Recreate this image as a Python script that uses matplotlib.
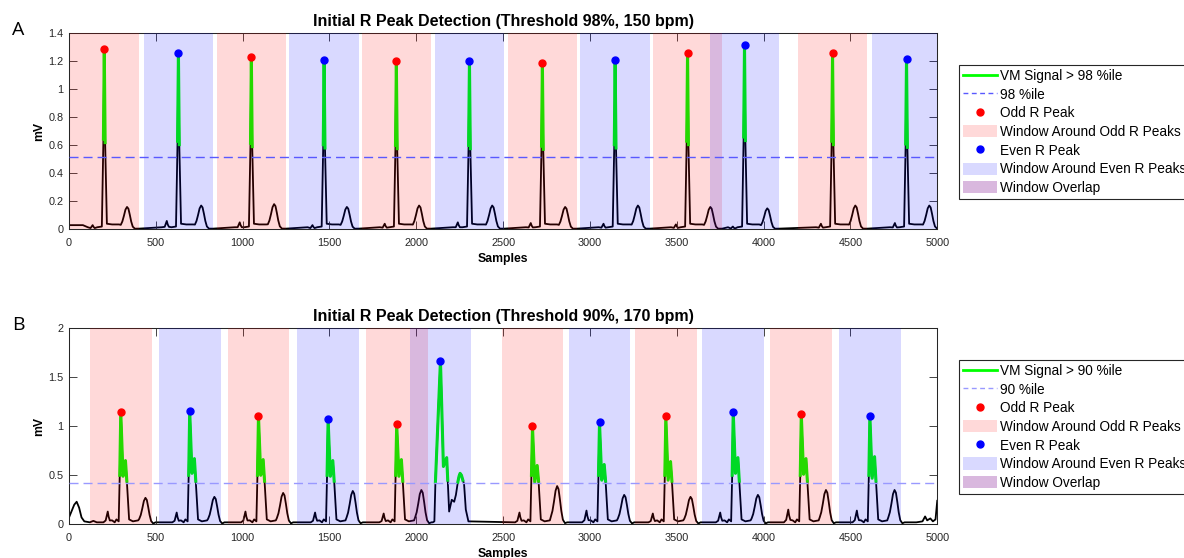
import numpy as np
import matplotlib.pyplot as plt
from matplotlib.lines import Line2D
from matplotlib.patches import Patch
from matplotlib.ticker import FuncFormatter

plt.rcParams['font.family'] = ['Liberation Sans', 'DejaVu Sans']

# ---- panel A data (98 %ile, 150 bpm) ----
a_r_pos = [203, 630, 1050, 1469, 1885, 2306, 2726, 3145, 3562, 3890, 4397, 4823]
a_r_amp = [1.29, 1.26, 1.23, 1.21, 1.20, 1.20, 1.19, 1.21, 1.26, 1.32, 1.26, 1.22]
a_t_amp = [0.16, 0.17, 0.18, 0.16, 0.17, 0.17, 0.16, 0.17, 0.16, 0.15, 0.17, 0.17]
a_p_amp = [0.03, 0.06, 0.05, 0.03, 0.04, 0.05, 0.045, 0.04, 0.035, 0.02, 0.04, 0.045]
a_lead_x = [0, 80]
a_lead_y = [0.03, 0.03]
a_thr = 0.52
a_half = 200

# ---- panel B data (90 %ile, 170 bpm) ----
b_r_pos = [298, 695, 1091, 1492, 1887, 2139, 2669, 3055, 3437, 3825, 4217, 4612]
b_r_amp = [1.15, 1.16, 1.11, 1.07, 1.02, 1.67, 1.00, 1.04, 1.10, 1.15, 1.13, 1.11]
b_r2_amp = [0.65, 0.67, 0.66, 0.65, 0.66, 0.68, 0.60, 0.61, 0.64, 0.68, 0.67, 0.69]
b_dip = [0.49, 0.52, 0.50, 0.49, 0.49, 0.59, 0.43, 0.45, 0.45, 0.52, 0.51, 0.47]
b_t_amp = [0.27, 0.28, 0.32, 0.34, 0.35, 0.52, 0.39, 0.30, 0.28, 0.30, 0.35, 0.35]
b_p_amp = [0.13, 0.12, 0.13, 0.12, 0.11, 0.0, 0.12, 0.14, 0.11, 0.12, 0.15, 0.14]
b_lead_x = [0, 14, 30, 44, 58, 72, 88, 120, 140, 160, 180]
b_lead_y = [0.07, 0.13, 0.20, 0.23, 0.17, 0.07, 0.03, 0.02, 0.035, 0.02, 0.02]
b_tail_x = [4880, 4915, 4930, 4942, 4960, 4975, 4990, 5000]
b_tail_y = [0.02, 0.03, 0.08, 0.04, 0.06, 0.03, 0.05, 0.24]
# the wide beat around sample 2139 has its own shape
b_wide_idx = 5
b_wide_x = [2095, 2104, 2110, 2139, 2156, 2175, 2181, 2189, 2204, 2218, 2228,
            2239, 2246, 2252, 2260, 2268, 2275, 2285, 2300]
b_wide_y = [0.02, 0.03, 0.43, 1.67, 0.59, 0.68, 0.45, 0.13, 0.25, 0.23, 0.30,
            0.43, 0.49, 0.52, 0.50, 0.45, 0.41, 0.15, 0.03]
b_thr = 0.42
b_half = 178

t_off = [-36, -27, -18, -9, 0, 8, 16, 24, 33, 45]
t_frac = [0.2, 0.35, 0.6, 0.88, 1.0, 0.92, 0.65, 0.35, 0.12, 0.03]
p_off = [-12, -5, 0, 5, 12]
p_frac = [0.3, 0.7, 1.0, 0.6, 0.3]


def wave(xs, ys, centre, amp):
    for o, f in zip(t_off, t_frac):
        xs.append(centre + o)
        ys.append(amp * f)


def bump(xs, ys, centre, amp):
    for o, f in zip(p_off, p_frac):
        xs.append(centre + o)
        ys.append(amp * f)


def build_a():
    xs, ys = list(a_lead_x), list(a_lead_y)
    for r, ra, ta, pa in zip(a_r_pos, a_r_amp, a_t_amp, a_p_amp):
        xs += [r - 95]; ys += [0.015]
        bump(xs, ys, r - 67, pa)
        xs += [r - 40, r - 14, r - 5, r, r + 5, r + 15, r + 45, r + 85]
        ys += [0.015, 0.02, ra * 0.5, ra, ra * 0.48, 0.04, 0.035, 0.035]
        wave(xs, ys, r + 131, ta)
        xs += [r + 200]; ys += [0.005]
    return np.array(xs), np.array(ys)


def build_b():
    xs, ys = list(b_lead_x), list(b_lead_y)
    for i, (r, ra, r2, dp, ta, pa) in enumerate(zip(b_r_pos, b_r_amp, b_r2_amp,
                                                    b_dip, b_t_amp, b_p_amp)):
        if i == b_wide_idx:
            xs += b_wide_x; ys += b_wide_y
            continue
        xs += [r - 100]; ys += [0.02]
        bump(xs, ys, r - 75, pa)
        xs += [r - 50, r - 35, r - 25, r - 12, r - 6, r, r + 13, r + 27, r + 35, r + 48, r + 70, r + 100]
        ys += [0.04, 0.02, 0.05, 0.03, 0.5, ra, dp, r2, 0.44, 0.05, 0.03, 0.04]
        wave(xs, ys, r + 142, ta)
        xs += [r + 200]; ys += [0.02]
    xs += b_tail_x; ys += b_tail_y
    return np.array(xs), np.array(ys)


def draw_panel(ax, x, y, thr, thr_col, r_pos, r_amp, half, ymax, ystep, title, pct):
    ax.plot(x, y, color='k', lw=1.3, zorder=1)
    ax.plot(x, np.where(y > thr, y, np.nan), color=(0, 1, 0), lw=2.2, zorder=2)
    for i, r in enumerate(r_pos):
        c = 'red' if i % 2 == 0 else 'blue'
        ax.axvspan(max(r - half, 0), min(r + half, 5000), color=c, alpha=0.15, lw=0, zorder=3)
    ax.axhline(thr, color=thr_col, lw=1, dashes=(6.5, 3.6), zorder=4)
    ax.plot(r_pos[0::2], r_amp[0::2], 'o', color='red', ms=5, zorder=5)
    ax.plot(r_pos[1::2], r_amp[1::2], 'o', color='blue', ms=5, zorder=5)

    ax.set_xlim(0, 5000)
    ax.set_ylim(0, ymax)
    ax.set_xticks(np.arange(0, 5001, 500))
    ax.set_yticks(np.arange(0, ymax + 1e-9, ystep))
    ax.yaxis.set_major_formatter(FuncFormatter(lambda v, p: '%g' % round(v, 3)))
    ax.tick_params(direction='in', top=True, right=True, length=5.5, width=0.6,
                   labelsize=7.8, colors='0.15')
    ax.tick_params(axis='x', pad=6.5)
    ax.tick_params(axis='y', pad=4)
    for s in ax.spines.values():
        s.set_color('0.15')
        s.set_linewidth(0.75)
    ax.set_xlabel('Samples', fontsize=8.8, fontweight='bold', labelpad=3.5)
    ax.set_ylabel('mV', fontsize=8.8, fontweight='bold', labelpad=2)
    ax.set_title(title, fontsize=11.5, fontweight='bold', pad=5)

    handles = [
        Line2D([], [], color=(0, 1, 0), lw=2),
        Line2D([], [], color=thr_col, lw=1, dashes=(3.5, 2.5)),
        Line2D([], [], ls='none', marker='o', color='red', ms=5),
        Patch(facecolor='red', alpha=0.15, edgecolor='none'),
        Line2D([], [], ls='none', marker='o', color='blue', ms=5),
        Patch(facecolor='blue', alpha=0.15, edgecolor='none'),
        Patch(facecolor=(0.85, 0.72, 0.87), edgecolor='none'),
    ]
    labels = ['VM Signal > %d %%ile' % pct, '%d %%ile' % pct, 'Odd R Peak',
              'Window Around Odd R Peaks', 'Even R Peak',
              'Window Around Even R Peaks', 'Window Overlap']
    bb = ax.get_position()
    leg = ax.legend(handles, labels, loc='upper left',
                    bbox_to_anchor=(959 / 1184, bb.y1 - 32 / 558),
                    bbox_transform=ax.figure.transFigure, fontsize=9.8,
                    handlelength=2.5, handleheight=1.0, handletextpad=0.2,
                    labelspacing=0.34, borderpad=0.28, borderaxespad=0,
                    fancybox=False, framealpha=1, edgecolor='0.15')
    leg.get_frame().set_linewidth(0.8)


fig = plt.figure(figsize=(11.84, 5.58), dpi=100)
ax1 = fig.add_axes([0.0583, 0.589, 0.7333, 0.3513])
ax2 = fig.add_axes([0.0583, 0.0604, 0.7333, 0.3513])

xa, ya = build_a()
xb, yb = build_b()

draw_panel(ax1, xa, ya, a_thr, (0.35, 0.35, 1.0), a_r_pos, a_r_amp, a_half, 1.4, 0.2,
           'Initial R Peak Detection (Threshold 98%, 150 bpm)', 98)
draw_panel(ax2, xb, yb, b_thr, (0.6, 0.6, 1.0), b_r_pos, b_r_amp, b_half, 2.0, 0.5,
           'Initial R Peak Detection (Threshold 90%, 170 bpm)', 90)

fig.text(12 / 1184, 1 - 35 / 558, 'A', fontsize=14, family=['Open Sans', 'DejaVu Sans'], va='baseline')
fig.text(12 / 1184, 1 - 330 / 558, 'B', fontsize=14, family=['Open Sans', 'DejaVu Sans'], va='baseline')

fig.savefig('out.png', dpi=100)
